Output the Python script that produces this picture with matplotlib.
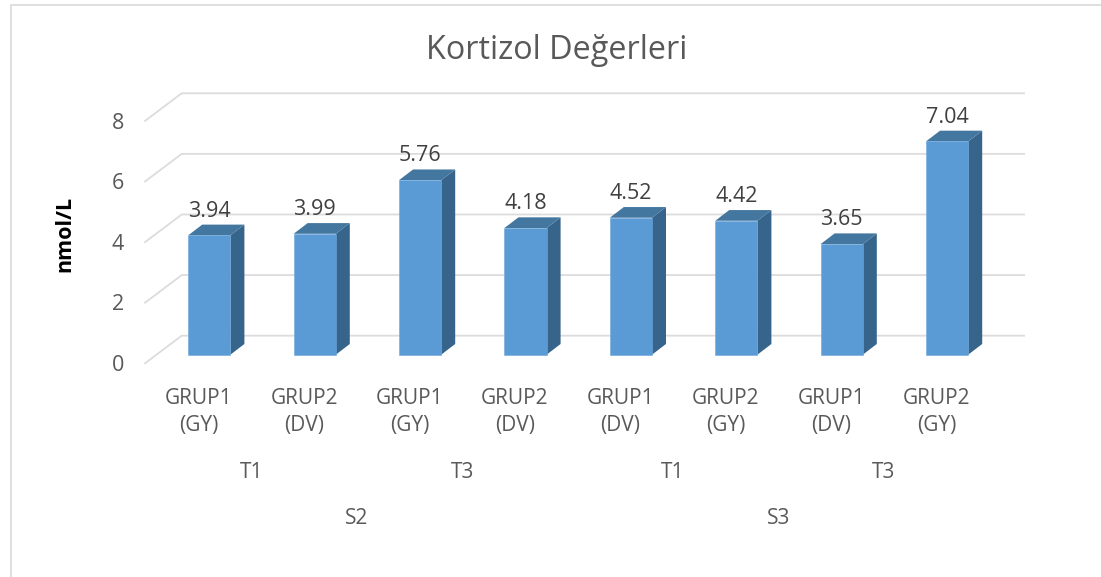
import matplotlib
matplotlib.use("Agg")
import matplotlib.pyplot as plt

plt.rcParams['font.family'] = ['Open Sans', 'DejaVu Sans']

values = [3.94, 3.99, 5.76, 4.18, 4.52, 4.42, 3.65, 7.04]
bar_labels = ["GRUP1\n(GY)", "GRUP2\n(DV)", "GRUP1\n(GY)", "GRUP2\n(DV)",
              "GRUP1\n(DV)", "GRUP2\n(GY)", "GRUP1\n(DV)", "GRUP2\n(GY)"]
time_labels = ["T1", "T3", "T1", "T3"]
session_labels = ["S2", "S3"]
y_ticks = [0, 2, 4, 6, 8]

# pixels per data unit, axes fills the whole figure
PX_X = 105.4
PX_Y = 30.3
bar_w = 0.40
dx = 14 / PX_X
dy = 10.7 / PX_Y
wall_x0 = -0.61
wall_x1 = -0.262
wall_x2 = 7.73
wall_dy = 27.6 / PX_Y
floor_y = -8.6 / PX_Y

fig = plt.figure(figsize=(11.01, 5.77), dpi=100)
ax = fig.add_axes([0, 0, 1, 1])
ax.set_xlim(-1.986, 8.460)
ax.set_ylim(-7.337, 11.706)
ax.axis('off')

# chart frame, only top and left show in the crop
ax.plot([10.5 / 1101, 10.5 / 1101, 1], [0, 1 - 4.5 / 577, 1 - 4.5 / 577],
        transform=ax.transAxes, color='#d9d9d9', lw=1.2, clip_on=False)

for t in y_ticks:
    y_front = t + floor_y
    y_back = y_front + wall_dy
    ax.plot([wall_x0, wall_x1, wall_x2], [y_front, y_back, y_back],
            color='#dcdcdc', lw=1.3, zorder=1, solid_joinstyle='miter')
    ax.text(wall_x0 - 0.2, y_front - 0.07, str(t), ha='right', va='center',
            fontsize=15.5, color='#595959')

xs = list(range(len(values)))
ax.bar(xs, values, width=bar_w, color='#5b9bd5', edgecolor='#6fa8dc', lw=0.4, zorder=3)

for x, v in zip(xs, values):
    r = x + bar_w / 2
    l = x - bar_w / 2
    ax.fill([r, r + dx, r + dx, r], [0, dy, v + dy, v], color='#37648b', lw=0, zorder=2)
    ax.fill([l, l + dx, r + dx, r], [v, v + dy, v + dy, v], color='#44779f', lw=0, zorder=2)
    ax.text(x, v + 0.80, "%.2f" % v, ha='center', va='center', fontsize=15.5, color='#404040', zorder=4)

for x, lab in zip(xs, bar_labels):
    ax.text(x - 0.10, -1.90, lab, ha='center', va='center', fontsize=15,
            color='#595959', linespacing=1.4)

for i, lab in enumerate(time_labels):
    ax.text(0.4 + 2 * i, -3.88, lab, ha='center', va='center', fontsize=15, color='#595959')

for i, lab in enumerate(session_labels):
    ax.text(1.4 + 4 * i, -5.40, lab, ha='center', va='center', fontsize=15, color='#595959')

ax.text(3.30, 10.03, "Kortizol Değerleri", ha='center', va='center', fontsize=23.3, color='#595959')
ax.text(-1.37, 3.98, "nmol/L", rotation=90, ha='center', va='center', fontsize=15.5,
        fontweight='bold', color='black')

plt.savefig("out.png", dpi=100)
